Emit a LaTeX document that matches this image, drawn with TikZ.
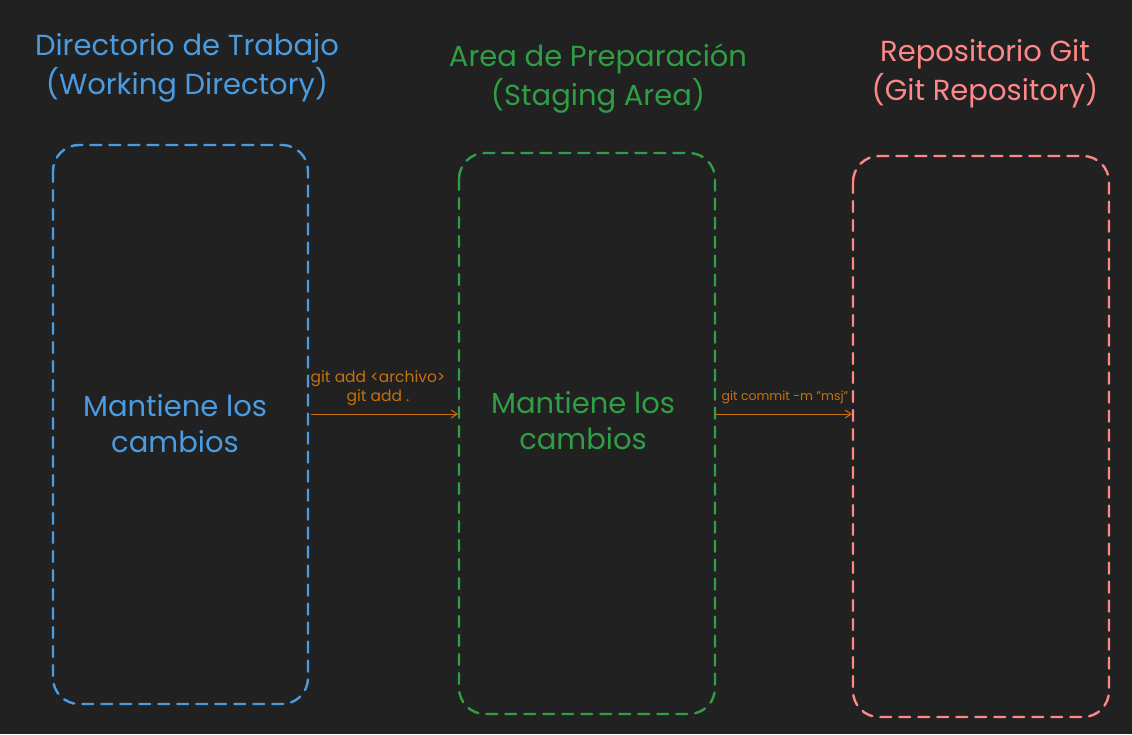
\documentclass[tikz,border=0pt]{standalone}
\usepackage{fontspec}
\setmainfont{Poppins}
\usetikzlibrary{arrows.meta}
\definecolor{bg}{HTML}{212121}
\definecolor{cblue}{HTML}{4A9BE0}
\definecolor{cgreen}{HTML}{2F9E44}
\definecolor{cred}{HTML}{FF8787}
\definecolor{corange}{HTML}{C8700E}
\tikzset{
  area/.style={draw, line width=2.4pt, dash pattern=on 11pt off 8pt, rounded corners=26pt, line cap=round},
  title/.style={align=center, font=\fontsize{29}{39}\selectfont},
  body/.style={align=center, font=\fontsize{29}{36}\selectfont},
  cmd/.style={align=center, font=\fontsize{15.5}{19}\selectfont, text=corange},
  cmdsmall/.style={align=center, font=\fontsize{12.5}{19}\selectfont, text=corange},
  flow/.style={draw=corange, line width=1pt, -{Straight Barb[length=6pt,width=8pt]}},
}
\begin{document}
\begin{tikzpicture}[x=1pt,y=-1pt]
\fill[bg] (0,0) rectangle (1132,734);
\useasboundingbox (0,0) rectangle (1132,734);
% boxes
\draw[area, cblue] (53,145) rectangle (308,704);
\draw[area, cgreen] (459,153) rectangle (715,714);
\draw[area, cred] (853,156) rectangle (1109,717);
\coordinate (wdR) at (311,414);
\coordinate (saL) at (458,414);
\coordinate (saR) at (716,414);
\coordinate (grL) at (852,414);
% titles
\node[title, text=cblue] (t1) at (187,68) {Directorio de Trabajo\\(Working Directory)};
\node[title, text=cgreen] (t2) at (598,78) {Area de Preparación\\(Staging Area)};
\node[title, text=cred] (t3) at (985,74) {Repositorio Git\\(Git Repository)};
% bodies
\node[body, text=cblue] (b1) at (175,424) {Mantiene los\\cambios};
\node[body, text=cgreen] (b2) at (583,421) {Mantiene los\\cambios};
% arrows
\draw[flow] (wdR) -- (saL);
\draw[flow] (saR) -- (grL);
\node[cmd] (c1) at (378,388) {git add <archivo>\\git add .};
\node[cmdsmall] (c2) at (785,397) {git commit -m "msj"};
\end{tikzpicture}
\end{document}
